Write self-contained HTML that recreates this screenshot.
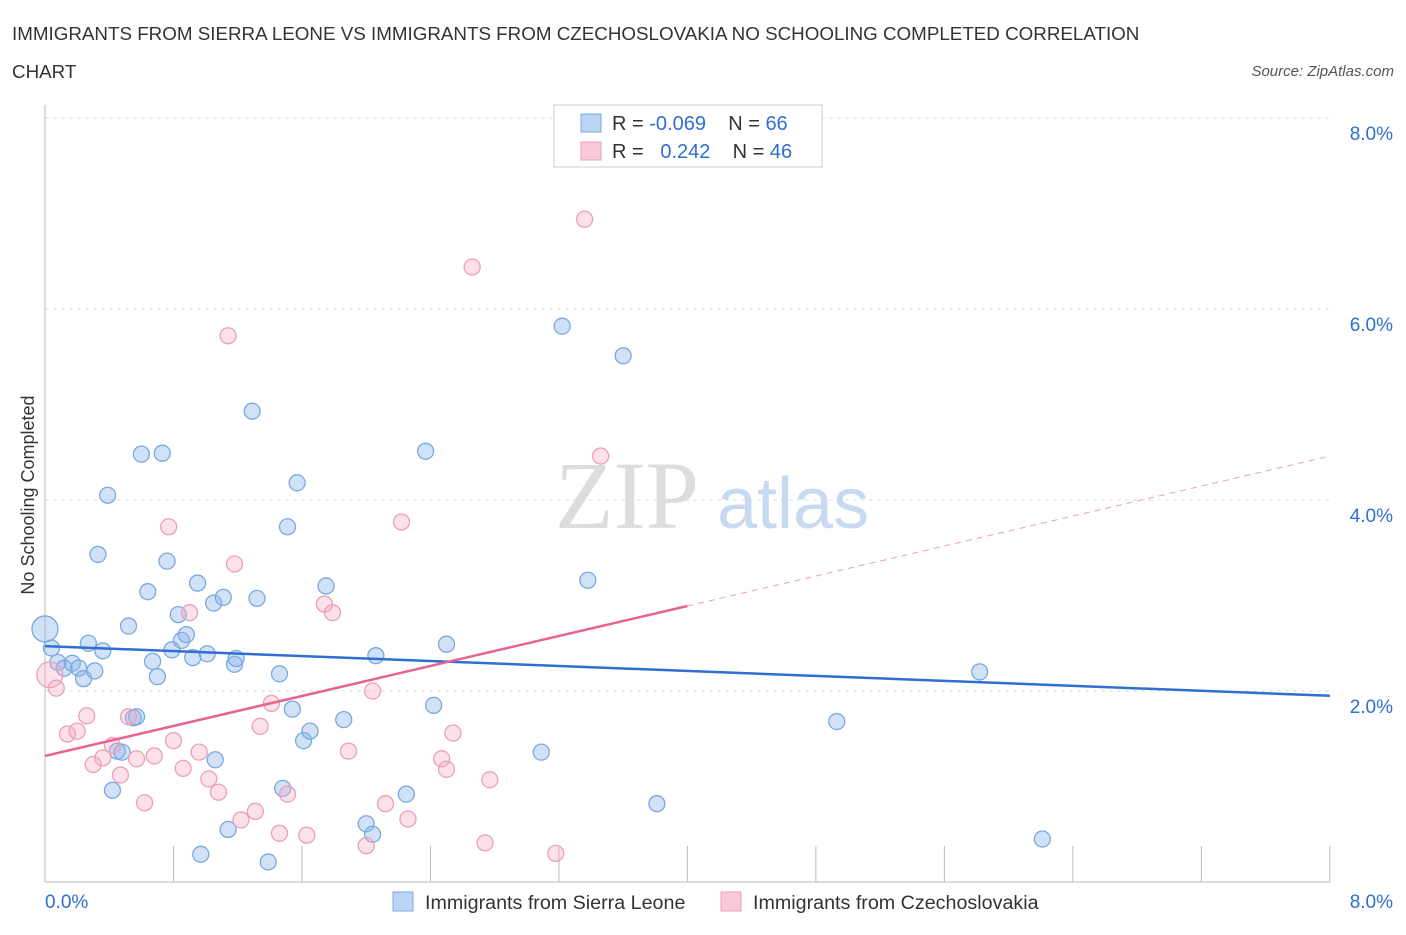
<!DOCTYPE html>
<html><head><meta charset="utf-8"><style>
body{margin:0;background:#fff;font-family:"Liberation Sans",sans-serif;}
</style></head><body>
<svg width="1406" height="930" id="chart" xmlns="http://www.w3.org/2000/svg" font-family="Liberation Sans, sans-serif">
<text x="12" y="40" font-size="18.8" fill="#333">IMMIGRANTS FROM SIERRA LEONE VS IMMIGRANTS FROM CZECHOSLOVAKIA NO SCHOOLING COMPLETED CORRELATION</text>
<text x="12" y="78" font-size="18.8" fill="#333">CHART</text>
<text x="1394" y="76" font-size="15" fill="#555" font-style="italic" text-anchor="end">Source: ZipAtlas.com</text>
<text x="34" y="495" font-size="18" fill="#333" text-anchor="middle" transform="rotate(-90 34 495)">No Schooling Completed</text>
<g id="grid"></g>
<text x="555" y="528" font-size="96" fill="#ddd" font-family="Liberation Serif, serif">ZIP</text>
<text x="717" y="528" font-size="72" fill="#c8daf2">atlas</text>
<g id="pts"></g>
<g id="lines"></g>
<g>
<rect x="554" y="105" width="268" height="62" fill="#fff" stroke="#ccc"/>
<rect x="581" y="114" width="20" height="18" fill="#bcd5f5" stroke="#7aa8e0"/>
<text x="612" y="130" font-size="20" fill="#333" xml:space="preserve">R = <tspan fill="#2f6fd1">-0.069</tspan>    N = <tspan fill="#2f6fd1">66</tspan></text>
<rect x="581" y="142" width="20" height="18" fill="#f9c9d8" stroke="#eba0b8"/>
<text x="612" y="158" font-size="20" fill="#333" xml:space="preserve">R =   <tspan fill="#2f6fd1">0.242</tspan>    N = <tspan fill="#2f6fd1">46</tspan></text>
</g>
<g>
<rect x="393" y="892" width="20" height="19" fill="#bcd5f5" stroke="#7aa8e0"/>
<text x="425" y="909" font-size="19.7" fill="#333">Immigrants from Sierra Leone</text>
<rect x="721" y="892" width="20" height="19" fill="#f9c9d8" stroke="#eba0b8"/>
<text x="753" y="909" font-size="19.7" fill="#333">Immigrants from Czechoslovakia</text>
</g>
</svg>
<script>
const blueX=[0.00,0.04,0.08,0.12,0.17,0.21,0.24,0.27,0.31,0.33,0.36,0.39,0.42,0.45,0.48,0.52,0.55,0.57,0.60,0.64,0.67,0.70,0.73,0.76,0.79,0.83,0.85,0.88,0.92,0.95,0.97,1.01,1.05,1.06,1.11,1.14,1.18,1.19,1.29,1.32,1.39,1.46,1.48,1.51,1.54,1.57,1.61,1.65,1.75,1.86,2.00,2.04,2.06,2.25,2.37,2.42,2.50,3.09,3.22,3.38,3.60,3.81,4.93,5.82,6.21];
const blueY=[2.65,2.45,2.30,2.24,2.29,2.24,2.13,2.50,2.21,3.43,2.42,4.05,0.96,1.37,1.36,2.68,1.72,1.73,4.48,3.04,2.31,2.15,4.49,3.36,2.43,2.80,2.53,2.59,2.35,3.13,0.29,2.39,2.92,1.28,2.98,0.55,2.28,2.34,4.93,2.97,0.21,2.18,0.98,3.72,1.81,4.18,1.48,1.58,3.10,1.70,0.61,0.50,2.37,0.92,4.51,1.85,2.49,1.36,5.82,3.16,5.51,0.82,1.68,2.20,0.45];
const pinkX=[0.03,0.07,0.14,0.20,0.26,0.30,0.36,0.42,0.47,0.52,0.57,0.62,0.68,0.77,0.80,0.86,0.90,0.96,1.02,1.08,1.14,1.18,1.22,1.31,1.34,1.41,1.46,1.51,1.63,1.74,1.79,1.89,2.00,2.04,2.12,2.22,2.26,2.47,2.50,2.54,2.66,2.74,2.77,3.18,3.36,3.46];
const pinkY=[2.17,2.03,1.55,1.58,1.74,1.23,1.30,1.43,1.12,1.73,1.29,0.83,1.32,3.72,1.48,1.19,2.82,1.36,1.08,0.94,5.72,3.33,0.65,0.74,1.63,1.87,0.51,0.92,0.49,2.91,2.82,1.37,0.38,2.00,0.82,3.77,0.66,1.29,1.18,1.56,6.44,0.41,1.07,0.30,6.94,4.46];
const blueTrend=[2.47,1.95];
const pinkTrend=[1.32,2.89,4.46];
const yTicks=[2,4,6,8];
const xTickVals=[0,0.8,1.6,2.4,3.2,4,4.8,5.6,6.4,7.2,8];
const NS='http://www.w3.org/2000/svg';
const sx=v=>45+v*160.6, sy=v=>882-v*95.5;
function mk(tag,at,parent){const e=document.createElementNS(NS,tag);for(const k in at)e.setAttribute(k,at[k]);parent.appendChild(e);return e;}
const grid=document.getElementById('grid');
yTicks.forEach(t=>{
 const l=mk('line',{x1:45,x2:1330,y1:sy(t),y2:sy(t),stroke:'#ddd','stroke-dasharray':'4 4'},grid);
 
 
 const tx=mk('text',{x:1393,y:sy(t)+22,'font-size':19,fill:'#2f6fd1','text-anchor':'end'},grid);tx.textContent=t.toFixed(1)+'%';
 
 
});
mk('line',{x1:45,x2:1330,y1:882,y2:882,stroke:'#bbb'},grid);
mk('line',{x1:45,x2:45,y1:105,y2:882,stroke:'#bbb'},grid);
xTickVals.forEach(t=>{const l=mk('line',{x1:sx(t),x2:sx(t),y1:846,y2:882,stroke:'#bbb'},grid);
 
 });
let t0=mk('text',{x:45,y:908,'font-size':19,fill:'#2f6fd1'},grid);t0.textContent='0.0%';


let t1=mk('text',{x:1393,y:908,'font-size':19,fill:'#2f6fd1','text-anchor':'end'},grid);t1.textContent='8.0%';


const pts=document.getElementById('pts');
blueX.forEach((x,i)=>{const c=mk('circle',{cx:sx(x),cy:sy(blueY[i]),r:i===0?13:8,fill:'rgba(140,182,235,0.4)',stroke:'#7aa8e0','stroke-width':1.3},pts);
 
 });
pinkX.forEach((x,i)=>{const c=mk('circle',{cx:sx(x),cy:sy(pinkY[i]),r:i===0?13:8,fill:'rgba(245,170,195,0.35)',stroke:'#eba0b8','stroke-width':1.3},pts);
 
 });
const lines=document.getElementById('lines');
let bl=mk('line',{x1:sx(0),y1:sy(blueTrend[0]),x2:sx(8),y2:sy(blueTrend[1]),stroke:'#2f6fd1','stroke-width':2.5},lines);


let pl=mk('line',{x1:sx(0),y1:sy(pinkTrend[0]),x2:sx(4),y2:sy(pinkTrend[1]),stroke:'#e8638f','stroke-width':2.5},lines);


let pd=mk('line',{x1:sx(4),y1:sy(pinkTrend[1]),x2:sx(8),y2:sy(pinkTrend[2]),stroke:'#eba0b8','stroke-width':1,'stroke-dasharray':'6 5'},lines);


</script>
</body></html>
